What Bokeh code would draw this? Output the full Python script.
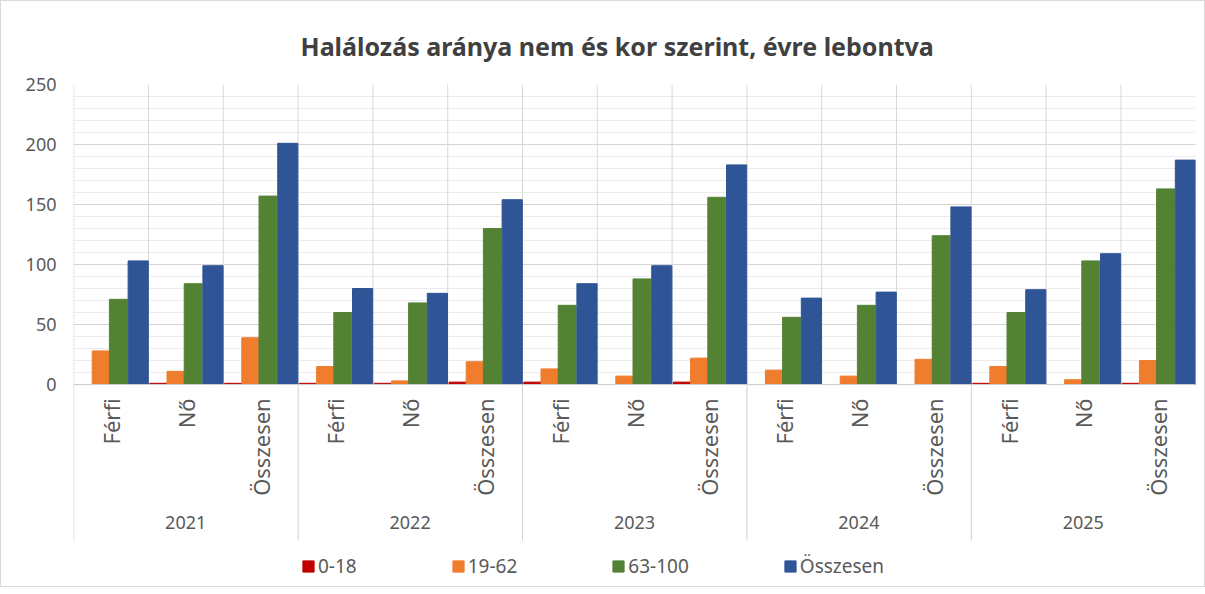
import math
from bokeh.plotting import figure
from bokeh.models import (FactorRange, Range1d, FixedTicker, Legend, LegendItem,
                          ColumnDataSource, Span)
from bokeh.transform import dodge
from bokeh.core.properties import value
from bokeh.embed import file_html
from bokeh.resources import INLINE

years = ["2021", "2022", "2023", "2024", "2025"]
groups = ["Férfi", "Nő", "Összesen"]
series_names = ["0-18", "19-62", "63-100", "Összesen"]
y_ticks = [0, 50, 100, 150, 200, 250]

v_0_18 = [0, 1, 1, 1, 1, 2, 2, 0, 2, 0, 0, 0, 1, 0, 1]
v_19_62 = [28, 11, 39, 15, 3, 19, 13, 7, 22, 12, 7, 21, 15, 4, 20]
v_63_100 = [71, 84, 157, 60, 68, 130, 66, 88, 156, 56, 66, 124, 60, 103, 163]
v_total = [103, 99, 201, 80, 76, 154, 84, 99, 183, 72, 77, 148, 79, 109, 187]

colors = ["#C00000", "#F07D2E", "#548235", "#2F5597"]

FONT = "Noto Sans"
TXT = "#595959"
LINE = "#D0D0D0"

factors = [(y, g) for y in years for g in groups]
src = ColumnDataSource(dict(x=factors, g=[g for _, g in factors],
                            a=v_0_18, b=v_19_62, c=v_63_100, d=v_total))
year_src = ColumnDataSource(dict(x=[(y, "Nő") for y in years], first=[(y, "Férfi") for y in years],
                                 year=years))

Y_MIN = -168.3  # room below the zero line for the category labels and the legend

p = figure(frame_width=1122, frame_height=502,
           x_range=FactorRange(*factors, factor_padding=0, group_padding=0, range_padding=0),
           y_range=Range1d(Y_MIN, 250), output_backend="svg", toolbar_location=None,
           min_border_left=72, min_border_right=9, min_border_top=83, min_border_bottom=0)
p.styles = {"border": "1px solid #D9D9D9"}
p.outline_line_color = None
p.background_fill_color = "white"

p.title.text = "Halálozás aránya nem és kor szerint, évre lebontva"
p.title.text_font = FONT
p.title.text_font_size = "25px"
p.title.text_font_style = "bold"
p.title.text_color = "#404040"
p.title.align = "left"
p.title.offset = 227
p.title.standoff = 44

# vertical category boundary lines in the plot area
p.segment(x0=dodge("x", -0.497, range=p.x_range), x1=dodge("x", -0.497, range=p.x_range),
          y0=0, y1=250, source=src, line_color="#D9D9D9", line_width=1)
# year separators below the axis
p.segment(x0=dodge("first", -0.497, range=p.x_range), x1=dodge("first", -0.497, range=p.x_range),
          y0=0, y1=-130, source=year_src, line_color=LINE, line_width=1)
p.add_layout(Span(location=0, dimension="width", line_color=LINE, line_width=1))

offsets = [-0.36, -0.13, 0.10, 0.365]
widths = [0.24, 0.24, 0.24, 0.27]
fields = ["a", "b", "c", "d"]
renderers = []
for f, off, w, col in zip(fields, offsets, widths, colors):
    r = p.vbar(x=dodge("x", off, range=p.x_range), top=f, width=w, source=src,
               fill_color=col, line_color=col, line_width=1)
    renderers.append(r)

# category labels (rotated) and year labels
p.text(x="x", y=-11.5, text="g", source=src, angle=math.pi / 2, text_align="right",
       text_baseline="middle", text_font=value(FONT), text_font_size="22px", text_color=TXT)
p.text(x="x", y=-115, text="year", source=year_src, text_align="center",
       text_baseline="middle", text_font=value(FONT), text_font_size="18px", text_color=TXT)

# y axis
p.yaxis.ticker = FixedTicker(ticks=y_ticks, minor_ticks=list(range(0, 251, 10)))
p.yaxis.axis_line_color = None
p.yaxis.major_tick_line_color = None
p.yaxis.minor_tick_line_color = None
p.yaxis.major_label_text_font = FONT
p.yaxis.major_label_text_font_size = "18px"
p.yaxis.major_label_text_color = TXT
p.yaxis.major_label_standoff = 11
p.ygrid.grid_line_color = "#D4D4D4"
p.ygrid.minor_grid_line_color = "#EBEBEB"
p.xgrid.grid_line_color = None
p.xaxis.visible = False

legend = Legend(items=[LegendItem(label=n, renderers=[r]) for n, r in zip(series_names, renderers)],
                orientation="horizontal", location=(228, 7))
legend.label_text_font = FONT
legend.label_text_font_size = "19px"
legend.label_text_color = TXT
legend.glyph_width = 14
legend.glyph_height = 14
legend.label_standoff = 3
legend.spacing = 94
legend.margin = 0
legend.padding = 4
legend.border_line_color = None
legend.background_fill_alpha = 0
p.add_layout(legend)

open("out.html", "w").write(file_html(p, INLINE))
